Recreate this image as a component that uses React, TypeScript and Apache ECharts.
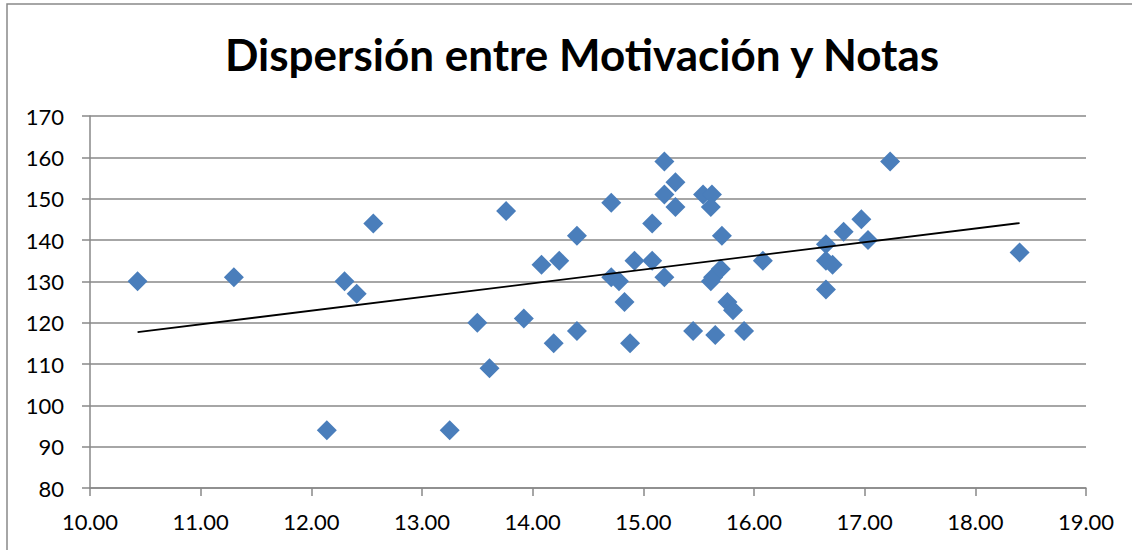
import { useEffect, useRef } from "react";
import * as echarts from "echarts";

const chartTitle = "Dispersión entre Motivación y Notas";

// Motivación (x) and Notas (y)
const motivacion = [
  10.43, 11.3, 12.14, 12.3, 12.41, 12.56, 13.25, 13.5, 13.61, 13.76,
  13.92, 14.08, 14.19, 14.24, 14.4, 14.4, 14.71, 14.71, 14.78, 14.83,
  14.88, 14.92, 15.08, 15.08, 15.19, 15.19, 15.19, 15.29, 15.29, 15.45,
  15.54, 15.62, 15.61, 15.61, 15.63, 15.65, 15.71, 15.7, 15.76, 15.81,
  15.91, 16.08, 16.65, 16.65, 16.65, 16.71, 16.81, 16.97, 17.03, 17.23,
  18.4,
];
const notas = [
  130, 131, 94, 130, 127, 144, 94, 120, 109, 147,
  121, 134, 115, 135, 141, 118, 149, 131, 130, 125,
  115, 135, 144, 135, 159, 151, 131, 154, 148, 118,
  151, 151, 148, 130, 131, 117, 141, 133, 125, 123,
  118, 135, 139, 135, 128, 134, 142, 145, 140, 159,
  137,
];

// Linear trend line endpoints
const trendX = [10.43, 18.4];
const trendY = [117.7, 144.1];

// Axis ticks
const xTicks = [10, 11, 12, 13, 14, 15, 16, 17, 18, 19];
const yTicks = [80, 90, 100, 110, 120, 130, 140, 150, 160, 170];

export default function App() {
  const ref = useRef<HTMLDivElement>(null);

  useEffect(() => {
    if (!ref.current) return;
    const chart = echarts.init(ref.current, undefined, { renderer: "svg" });
    const axisGray = "#898989";
    const labelFont = { fontFamily: "Lato", fontSize: 22, color: "#000" };

    chart.setOption({
      animation: false,
      backgroundColor: "#fff",
      title: {
        text: chartTitle,
        left: 577,
        top: 27,
        textAlign: "center",
        textStyle: {
          fontFamily: "Lato",
          fontWeight: "bold",
          fontSize: 44,
          color: "#000",
        },
      },
      graphic: [
        {
          type: "rect",
          shape: { x: 7, y: 4, width: 1300, height: 700 },
          style: { fill: "none", stroke: axisGray, lineWidth: 1.5 },
          silent: true,
        },
      ],
      grid: { left: 90, right: 46, top: 116, bottom: 62 },
      xAxis: {
        type: "value",
        min: xTicks[0],
        max: xTicks[xTicks.length - 1],
        interval: 1,
        axisLine: { show: true, onZero: false, lineStyle: { color: axisGray, width: 1.5 } },
        axisTick: { show: true, length: 8, lineStyle: { color: axisGray, width: 1.5 } },
        splitLine: { show: false },
        axisLabel: {
          ...labelFont,
          margin: 22,
          formatter: (v: number) => v.toFixed(2),
        },
      },
      yAxis: {
        type: "value",
        min: yTicks[0],
        max: yTicks[yTicks.length - 1],
        interval: 10,
        axisLine: { show: true, onZero: false, lineStyle: { color: axisGray, width: 1.5 } },
        axisTick: { show: true, length: 8, lineStyle: { color: axisGray, width: 1.5 } },
        splitLine: { show: true, lineStyle: { color: axisGray, width: 1.5 } },
        axisLabel: { ...labelFont, margin: 26 },
      },
      series: [
        {
          type: "scatter",
          symbol: "diamond",
          symbolSize: 20,
          itemStyle: { color: "#4a7ebb", opacity: 1 },
          data: motivacion.map((x, i) => [x, notas[i]]),
          z: 3,
        },
        {
          type: "line",
          symbol: "none",
          lineStyle: { color: "#000", width: 1.8 },
          data: trendX.map((x, i) => [x, trendY[i]]),
          z: 4,
        },
      ],
    });

    return () => chart.dispose();
  }, []);

  return (
    <div
      ref={ref}
      style={{ position: "absolute", left: 0, top: 0, width: 1132, height: 550 }}
    />
  );
}
